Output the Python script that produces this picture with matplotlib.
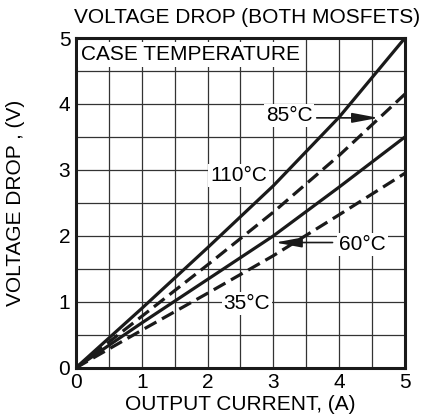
import matplotlib
matplotlib.use('Agg')
import matplotlib.pyplot as plt
import numpy as np

plt.rcParams['font.family'] = ['Liberation Sans', 'DejaVu Sans']

# output current (A)
current = [0, 1, 2, 3, 4, 5]
# voltage drop (V) for each case temperature
v_110 = [0, 0.90, 1.82, 2.76, 3.80, 5.00]
v_85 = [0, 0.78, 1.56, 2.36, 3.22, 4.15]
v_60 = [0, 0.68, 1.34, 2.00, 2.74, 3.50]
v_35 = [0, 0.57, 1.13, 1.70, 2.32, 2.95]

ticks = [0, 1, 2, 3, 4, 5]

fig = plt.figure(figsize=(4.24, 4.18), dpi=100)
ax = fig.add_axes([0.179, 0.120, 0.776, 0.789])

lw = 2.3
ax.plot(current, v_110, color='#1a1a1a', lw=lw, solid_capstyle='butt', zorder=3)
ax.plot(current, v_85, color='#1a1a1a', lw=lw, dashes=(4.2, 2), zorder=3)
ax.plot(current, v_60, color='#1a1a1a', lw=lw, solid_capstyle='butt', zorder=3)
ax.plot(current, v_35, color='#1a1a1a', lw=lw, dashes=(4.2, 2), zorder=3)

ax.set_xlim(0, 5)
ax.set_ylim(0, 5)
ax.set_xticks(ticks)
ax.set_yticks(ticks)
ax.set_xticks(np.arange(0, 5.01, 0.5), minor=True)
ax.set_yticks(np.arange(0, 5.01, 0.5), minor=True)
ax.grid(which='both', color='#333333', lw=0.9)
ax.tick_params(which='both', length=0, labelsize=15)
ax.tick_params(axis='x', pad=4)
ax.tick_params(axis='y', pad=4)
for s in ax.spines.values():
    s.set_linewidth(2.2)
    s.set_color('#1a1a1a')

ax.set_title('VOLTAGE DROP (BOTH MOSFETS)', fontsize=15, pad=11, x=0.52)
ax.set_xlabel('OUTPUT CURRENT, (A)', fontsize=15, labelpad=2)
ax.set_ylabel('VOLTAGE DROP , (V)', fontsize=15)
ax.yaxis.set_label_coords(-0.155, 0.5)

box = dict(facecolor='white', edgecolor='none', pad=1.5)
ax.text(0.08, 4.75, 'CASE TEMPERATURE', fontsize=15, va='center', ha='left',
        bbox=dict(facecolor='white', edgecolor='none', pad=2), zorder=4)
ax.text(3.24, 3.83, '85°C', fontsize=15, va='center', ha='center', bbox=box, zorder=4)
ax.text(2.47, 2.92, '110°C', fontsize=15, va='center', ha='center', bbox=box, zorder=4)
ax.text(4.35, 1.87, '60°C', fontsize=15, va='center', ha='center', bbox=box, zorder=4)
ax.text(2.6, 0.98, '35°C', fontsize=15, va='center', ha='center', bbox=box, zorder=4)

arrow = dict(arrowstyle='-|>,head_length=1.6,head_width=0.3', color='#1a1a1a',
             lw=1.2, mutation_scale=10, shrinkA=0, shrinkB=0)
ax.annotate('', xy=(4.6, 3.79), xytext=(3.66, 3.79), arrowprops=arrow, zorder=5)
ax.annotate('', xy=(3.03, 1.9), xytext=(3.9, 1.9), arrowprops=arrow, zorder=5)

fig.savefig('out.png', dpi=100)
